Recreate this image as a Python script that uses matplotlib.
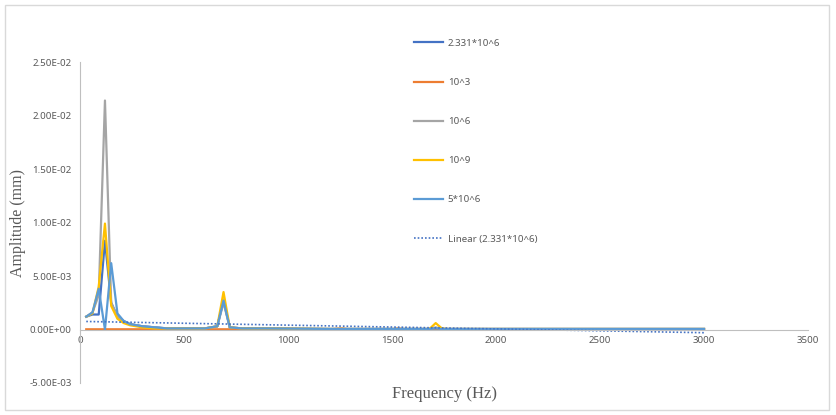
import matplotlib
matplotlib.use('Agg')
from matplotlib import pyplot as plt
from matplotlib.patches import Rectangle

# frequency points (Hz)
freq = [30, 60, 90, 120, 150, 180, 210, 240, 270, 300, 360, 420, 480, 540,
        600, 660, 690, 720, 780, 900, 1200, 1260, 1290, 1500, 1530, 1560,
        1680, 1710, 1740, 1770, 2000, 2500, 3000]

# amplitude (mm) per stiffness
amp_2331e6 = [0.0012, 0.0014, 0.0014, 0.0083, 0.0025, 0.0012, 0.0008, 0.0005,
              0.0004, 0.0003, 0.0002, 0.0001, 0.0001, 0.0001, 0.0001, 0.0003,
              0.0027, 0.0002, 0.0001, 0.0001, 0.00005, 0.00005, 0.00005,
              0.00005, 0.00005, 0.00005, 0.00005, 0.0001, 0.00005, 0.00005,
              0.00005, 0.00005, 0.00005]
amp_1e3 = [0.00002, 0.00002, 0.00002, 0.00002, 0.00002, 0.00002, 0.00002,
           0.00002, 0.00002, 0.00002, 0.00002, 0.00002, 0.00002, 0.00002,
           0.00002, 0.00002, 0.00002, 0.00002, 0.00002, 0.00002, 0.00002,
           0.0001, 0.00002, 0.00002, 0.0001, 0.00002, 0.00002, 0.00002,
           0.00002, 0.00002, 0.00002, 0.00002, 0.00002]
amp_1e6 = [0.0012, 0.0016, 0.0032, 0.0214, 0.0025, 0.0012, 0.0007, 0.0005,
           0.0004, 0.0003, 0.0002, 0.0001, 0.0001, 0.0001, 0.0001, 0.0003,
           0.0025, 0.0002, 0.0001, 0.0001, 0.00005, 0.00005, 0.00005,
           0.00005, 0.00005, 0.00005, 0.00005, 0.0002, 0.00005, 0.00005,
           0.00005, 0.00005, 0.00005]
amp_1e9 = [0.0012, 0.0015, 0.0040, 0.0099, 0.0022, 0.0010, 0.0006, 0.0004,
           0.0003, 0.0002, 0.0001, 0.0001, 0.0001, 0.0001, 0.0001, 0.0003,
           0.0035, 0.0002, 0.0001, 0.0001, 0.00005, 0.00005, 0.00005,
           0.00005, 0.00005, 0.00005, 0.00005, 0.0006, 0.0001, 0.00005,
           0.00005, 0.00005, 0.00005]
amp_5e6 = [0.0012, 0.0016, 0.0038, 0.0000, 0.0062, 0.0015, 0.0008, 0.0005,
           0.0004, 0.0003, 0.0002, 0.0001, 0.0001, 0.0001, 0.0001, 0.0003,
           0.0027, 0.0002, 0.0001, 0.0001, 0.00005, 0.00005, 0.00005,
           0.00005, 0.00005, 0.00005, 0.00005, 0.0001, 0.00005, 0.00005,
           0.00005, 0.00005, 0.00005]

# linear trendline of 2.331*10^6 (end points)
trend_freq = [30, 3000]
trend_amp = [0.00075, -0.0003]

labels = ['2.331*10^6', '10^3', '10^6', '10^9', '5*10^6', 'Linear (2.331*10^6)']
colors = ['#4472C4', '#ED7D31', '#A5A5A5', '#FFC000', '#5B9BD5']

plt.rcParams['font.family'] = ['Noto Sans', 'DejaVu Sans']

fig = plt.figure(figsize=(8.36, 4.15), dpi=100)
ax = fig.add_axes([80/836, 1-383/415, 728/836, 321/415])

series = [amp_2331e6, amp_1e3, amp_1e6, amp_1e9, amp_5e6]
for vals, col, lab in zip(series, colors, labels):
    ax.plot(freq, vals, color=col, lw=1.6, label=lab)
ax.plot(trend_freq, trend_amp, color='#4472C4', lw=1.2, ls=(0, (1, 1.2)), label=labels[5])

ax.set_xlim(0, 3500)
ax.set_ylim(-0.005, 0.025)
ax.set_xticks(range(0, 3501, 500))
ax.set_yticks([-0.005, 0, 0.005, 0.01, 0.015, 0.02, 0.025])
ax.set_yticklabels(['-5.00E-03', '0.00E+00', '5.00E-03', '1.00E-02', '1.50E-02', '2.00E-02', '2.50E-02'])

for s in ['top', 'right']:
    ax.spines[s].set_visible(False)
ax.spines['bottom'].set_position(('data', 0))
ax.spines['bottom'].set_color('#BFBFBF')
ax.spines['left'].set_color('#BFBFBF')
ax.tick_params(length=0, labelsize=7, labelcolor='#595959')
ax.tick_params(axis='x', pad=5)
ax.tick_params(axis='y', pad=6)

# axis titles centred on the plot area, like Excel does
fig.text(444/836, 1-394/415, 'Frequency (Hz)', family='Liberation Serif', fontsize=12,
         color='#595959', ha='center', va='center')
fig.text(18/836, 1-223/415, 'Amplitude (mm)', family='Liberation Serif', fontsize=11.5,
         color='#595959', ha='center', va='center', rotation=90)

leg = ax.legend(loc='upper left', bbox_to_anchor=(409/836, 1-34/415),
                bbox_transform=fig.transFigure, frameon=False, fontsize=7,
                labelspacing=3.1, handlelength=3.0, handletextpad=0.5, borderpad=0)
for t in leg.get_texts():
    t.set_color('#595959')

fig.add_artist(Rectangle((5/836, 5/415), 824/836, 405/415, transform=fig.transFigure,
                         fill=False, edgecolor='#D9D9D9', lw=1))

fig.savefig('out.png', dpi=100)
